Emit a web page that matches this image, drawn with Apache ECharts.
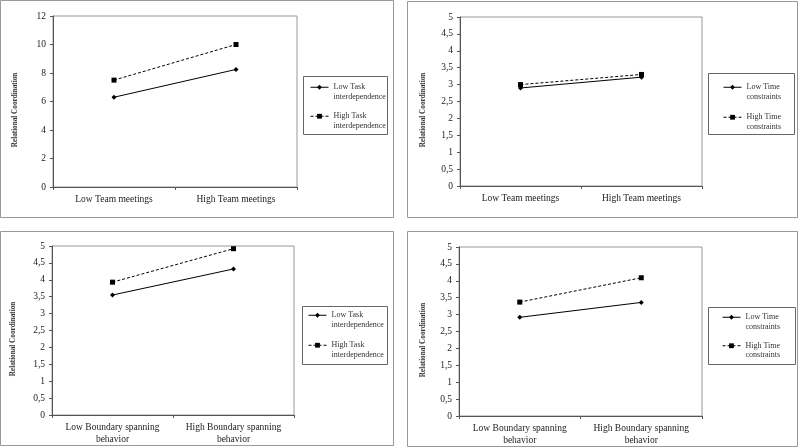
<!DOCTYPE html>
<html><head><meta charset="utf-8">
<script src="https://cdn.jsdelivr.net/npm/echarts@6/dist/echarts.min.js"></script>
<style>html,body{margin:0;padding:0;background:#fff}#c{width:800px;height:448px}</style>
</head><body><div id="c"></div>
<script>
// ---- data ----
const catsMeet = ['Low Team meetings', 'High Team meetings'];
const catsBound = ['Low Boundary spanning\nbehavior', 'High Boundary spanning\nbehavior'];
const yTicks12 = [0, 2, 4, 6, 8, 10, 12];
const yTicks5 = [0, 0.5, 1, 1.5, 2, 2.5, 3, 3.5, 4, 4.5, 5];

const p1Low = [6.3, 8.25];   // Low Task interdependence
const p1High = [7.5, 10.0];  // High Task interdependence
const p2Low = [2.9, 3.22];   // Low Time constraints
const p2High = [3.0, 3.3];   // High Time constraints
const p3Low = [3.55, 4.32];  // Low Task interdependence
const p3High = [3.93, 4.92]; // High Task interdependence
const p4Low = [2.92, 3.36];  // Low Time constraints
const p4High = [3.37, 4.09]; // High Time constraints

const nLowTask = 'Low Task\ninterdependence';
const nHighTask = 'High Task\ninterdependence';
const nLowTime = 'Low Time\nconstraints';
const nHighTime = 'High Time\nconstraints';
const yName = 'Relational Coordination';

// ---- styles ----
const FONT = 'Liberation Serif';
const axisCol = '#555';
const LH = 9.5;
const grids = [
  {left: 53, top: 16, width: 244, height: 171},
  {left: 460, top: 17, width: 242, height: 169},
  {left: 52, top: 246, width: 242, height: 169},
  {left: 459, top: 247, width: 243, height: 169}
].map(g => Object.assign({show: true, borderColor: '#999', borderWidth: 1, backgroundColor: 'transparent'}, g));

function xAx(i, cats) {
  return {
    type: 'category', gridIndex: i, data: cats, boundaryGap: true,
    axisLine: {lineStyle: {color: axisCol, width: 1}},
    axisTick: {show: true, inside: false, length: 3, lineStyle: {color: axisCol}},
    axisLabel: {fontFamily: FONT, fontSize: 9.5, color: '#222', margin: 6, lineHeight: 12, interval: 0},
    splitLine: {show: false}
  };
}
function yAx(i, max, step, gap) {
  return {
    type: 'value', gridIndex: i, min: 0, max: max, interval: step,
    name: yName, nameLocation: 'middle', nameGap: gap, nameRotate: 90,
    nameTextStyle: {fontFamily: FONT, fontSize: 7.2, fontWeight: 'bold', color: '#333', padding: [0, 17, 0, 0]},
    axisLine: {show: true, lineStyle: {color: axisCol, width: 1}},
    axisTick: {show: true, inside: false, length: 3, lineStyle: {color: axisCol}},
    axisLabel: {fontFamily: FONT, fontSize: 9.5, color: '#222', margin: 7,
      formatter: v => String(v).replace('.', ',')},
    splitLine: {show: false}
  };
}
function ser(i, name, data, high) {
  return {
    type: 'line', name: name, xAxisIndex: i, yAxisIndex: i, data: data,
    symbol: high ? 'rect' : 'diamond', symbolSize: 5,
    showSymbol: true,
    itemStyle: {color: '#000'},
    lineStyle: {color: '#000', width: 1, type: high ? [3, 2] : 'solid'},
    emphasis: {disabled: true}, animation: false
  };
}
function leg(left, top, gap, names) {
  return {
    orient: 'vertical', left: left, top: top, data: names,
    padding: 0, itemGap: gap,
    itemWidth: 18, itemHeight: 6,
    lineStyle: {width: 1},
    formatter: n => '\n' + n,
    textStyle: {fontFamily: FONT, fontSize: 8, color: '#333', lineHeight: LH},
    selectedMode: false
  };
}
const panelRect = (x, y, w, h) => ({type: 'rect', shape: {x: x, y: y, width: w, height: h},
  style: {fill: 'none', stroke: '#999', lineWidth: 1}, silent: true});
const legRect = (x, y, w, h) => ({type: 'rect', shape: {x: x, y: y, width: w, height: h},
  style: {fill: 'none', stroke: '#666', lineWidth: 1}, silent: true});

const chart = echarts.init(document.getElementById('c'), null, {renderer: 'canvas'});
chart.setOption({
  backgroundColor: '#fff',
  animation: false,
  graphic: [
    panelRect(0.5, 0.5, 393, 217),
    panelRect(407.5, 1.5, 390, 216),
    panelRect(0.5, 231.5, 393, 214),
    panelRect(407.5, 231.5, 390, 215),
    legRect(303.5, 76.5, 84, 58),
    legRect(708.5, 73.5, 86, 61),
    legRect(302.5, 306.5, 85, 58),
    legRect(708.5, 307.5, 87, 57)
  ],
  grid: grids,
  xAxis: [xAx(0, catsMeet), xAx(1, catsMeet), xAx(2, catsBound), xAx(3, catsBound)],
  yAxis: [yAx(0, 12, 2, 34), yAx(1, 5, 0.5, 33), yAx(2, 5, 0.5, 35), yAx(3, 5, 0.5, 32)],
  legend: [
    leg(310, 73, 0.5, [nLowTask, nHighTask]),
    leg(723, 73, 1.5, [nLowTime, nHighTime]),
    leg(308, 301, 1.5, [nLowTask, nHighTask]),
    leg(722, 303, 0, [nLowTime, nHighTime])
  ],
  series: [
    ser(0, nLowTask, p1Low, false), ser(0, nHighTask, p1High, true),
    ser(1, nLowTime, p2Low, false), ser(1, nHighTime, p2High, true),
    ser(2, nLowTask, p3Low, false), ser(2, nHighTask, p3High, true),
    ser(3, nLowTime, p4Low, false), ser(3, nHighTime, p4High, true)
  ]
});
</script></body></html>
